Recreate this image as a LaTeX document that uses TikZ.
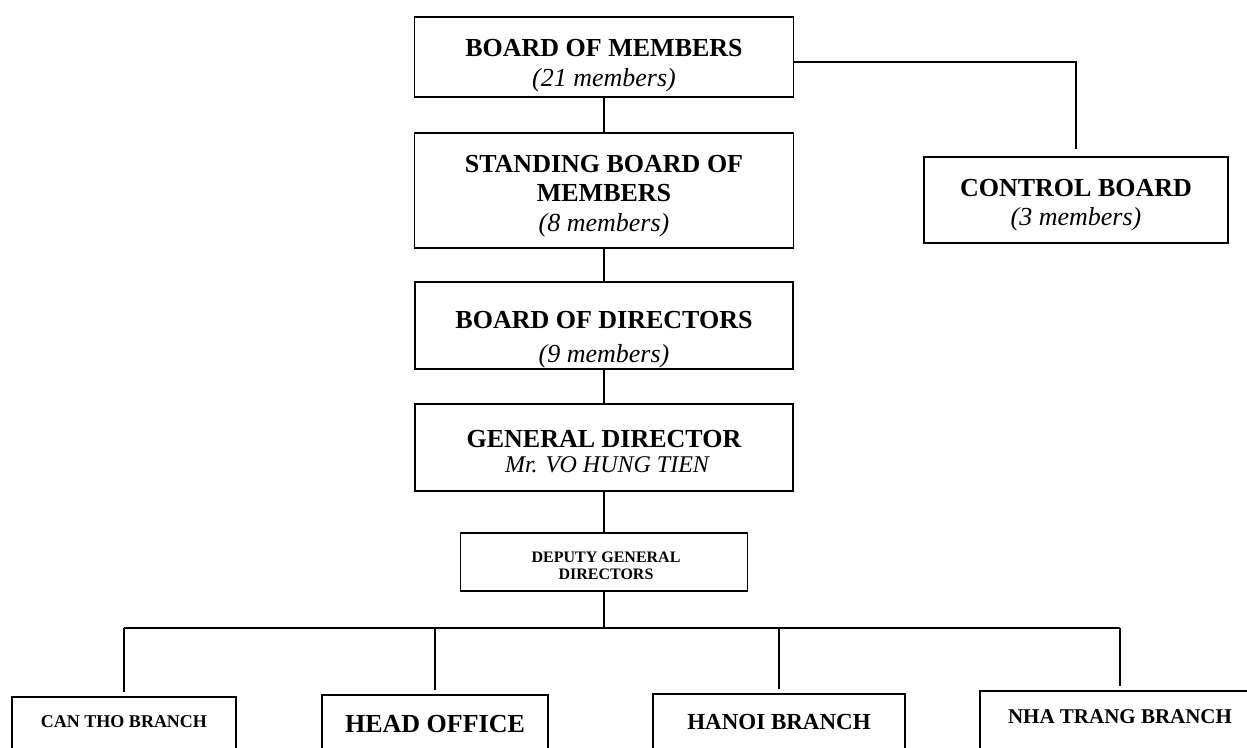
\documentclass[tikz,border=0pt]{standalone}
\usepackage{fontspec}
\setmainfont{Liberation Serif}
\newcommand{\bsz}[1]{\fontsize{#1}{#1}\selectfont\bfseries}
\tikzset{
  box/.style={draw, line width=1.8pt, inner sep=0pt},
  conn/.style={line width=1.5pt},
  ttl/.style={font=\bsz{26}, inner sep=0pt},
  sub/.style={font=\fontsize{26}{26}\selectfont\itshape, inner sep=0pt},
}
\begin{document}
\begin{tikzpicture}[x=1pt,y=-1pt]
  \fill[white] (0,0) rectangle (1247,747);
  \useasboundingbox (0,0) rectangle (1247,747);
  \clip (0,0) rectangle (1247,747);

  % boards
  \node[box, minimum width=379, minimum height=80] (bom) at (604,57) {};
  \node[ttl] (bomt) at (604,48) {BOARD OF MEMBERS};
  \node[sub] (boms) at (604,80.5) {(21 members)};

  \node[box, minimum width=379, minimum height=115] (sbom) at (604,190.5) {};
  \node[ttl] (sbomt) at (604,164) {STANDING BOARD OF};
  \node[ttl] (sbomm) at (604,193.5) {MEMBERS};
  \node[sub] (sboms) at (604,225) {(8 members)};

  \node[box, minimum width=304, minimum height=86] (ctrl) at (1076,200) {};
  \node[ttl] (ctrlt) at (1076,188.5) {CONTROL BOARD};
  \node[sub] (ctrls) at (1076,219) {(3 members)};

  \node[box, minimum width=378, minimum height=87] (bod) at (604,325.5) {};
  \node[ttl] (bodt) at (604,320) {BOARD OF DIRECTORS};
  \node[sub] (bods) at (604,356) {(9 members)};

  \node[box, minimum width=378, minimum height=87] (gd) at (604,447.5) {};
  \node[ttl] (gdt) at (604,439.5) {GENERAL DIRECTOR};
  \node[inner sep=0pt, font=\fontsize{24}{24}\selectfont\itshape] (gdn) at (607,465) {Mr. VO HUNG TIEN};

  \node[box, minimum width=287, minimum height=58] (dgd) at (604,562) {};
  \node[inner sep=0pt, font=\bsz{16}, align=center] (dgdt) at (606,566) {DEPUTY GENERAL\\[1pt]DIRECTORS};

  % branches
  \node[box, anchor=north, minimum width=224, minimum height=80] (canth) at (124,696) {};
  \node[inner sep=0pt, font=\bsz{18}] (cantht) at (124,721.5) {CAN THO BRANCH};

  \node[box, anchor=north, minimum width=226, minimum height=80] (head) at (435,694) {};
  \node[inner sep=0pt, font=\bsz{26}] (headt) at (435,724) {HEAD OFFICE};

  \node[box, anchor=north, minimum width=252, minimum height=80] (hanoi) at (779,693) {};
  \node[inner sep=0pt, font=\bsz{23}] (hanoit) at (779,722) {HANOI BRANCH};

  \node[box, anchor=north, minimum width=280, minimum height=80] (nhat) at (1120,690) {};
  \node[inner sep=0pt, font=\bsz{21}] (nhatt) at (1120,717) {NHA TRANG BRANCH};

  % connectors
  \draw[conn] (bom.south) -- (sbom.north);
  \draw[conn] ([yshift=-5pt]bom.east) -| ([yshift=7pt]ctrl.north);
  \draw[conn] (sbom.south) -- (bod.north);
  \draw[conn] (bod.south) -- (gd.north);
  \draw[conn] (gd.south) -- (dgd.north);

  \coordinate (bus) at (604,628);
  \draw[conn] (dgd.south) -- (dgd.south |- bus);
  \draw[conn] (canth.north |- bus) -- (nhat.north |- bus);
  \foreach \b in {canth,head,hanoi,nhat} {
    \draw[conn] (\b.north |- bus) -- ([yshift=4pt]\b.north);
  }
\end{tikzpicture}
\end{document}
